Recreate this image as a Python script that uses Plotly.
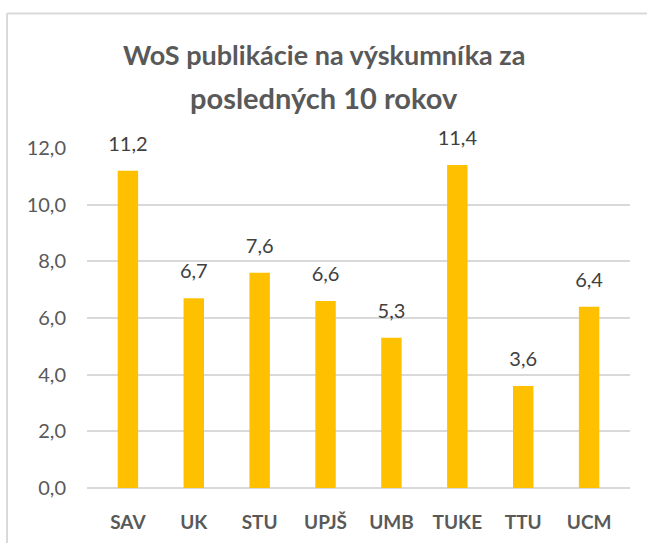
import plotly.graph_objects as go

categories = ["SAV", "UK", "STU", "UPJŠ", "UMB", "TUKE", "TTU", "UCM"]
values = [11.2, 6.7, 7.6, 6.6, 5.3, 11.4, 3.6, 6.4]
y_ticks = [0, 2, 4, 6, 8, 10, 12]
y_tick_labels = ["0,0", "2,0", "4,0", "6,0", "8,0", "10,0", "12,0"]
value_labels = [f"{v:.1f}".replace(".", ",") for v in values]
title_lines = ["WoS publikácie na výskumníka za", "posledných 10 rokov"]

FONT = "Lato, Liberation Sans, sans-serif"
W, H = 647, 545
L, R, T, B = 87, 17, 148, 51
pw, ph = W - L - R, H - T - B

fig = go.Figure()
fig.add_trace(go.Bar(
    x=categories, y=values,
    marker=dict(color="#FFC000", line=dict(width=0)),
    width=0.31, hoverinfo="x+y",
))
fig.add_trace(go.Scatter(
    x=categories, y=values, mode="markers+text",
    marker=dict(size=22, opacity=0),
    text=value_labels, textposition="top center", cliponaxis=False,
    textfont=dict(family=FONT, size=20, color="#404040"),
    hoverinfo="skip",
))

def py(pix):
    return (H - B - pix) / ph

def px(pix):
    return (pix - L) / pw

annotations = []
for line, ypix, fs in zip(title_lines, [53, 97], [27, 29]):
    annotations.append(dict(
        text=f"<b>{line}</b>", xref="paper", yref="paper",
        x=px(324), y=py(ypix), xanchor="center", yanchor="middle",
        showarrow=False, font=dict(family=FONT, size=fs, color="#595959"),
    ))

fig.update_layout(
    width=W, height=H,
    margin=dict(l=L, r=R, t=T, b=B),
    paper_bgcolor="white", plot_bgcolor="white",
    showlegend=False,
    annotations=annotations,
)
fig.update_yaxes(
    range=[0, 12], tickvals=y_ticks, ticktext=y_tick_labels,
    showgrid=True, gridcolor="#D9D9D9", gridwidth=1.5,
    zeroline=True, zerolinecolor="#D9D9D9", zerolinewidth=1.5,
    showline=False, ticks="", ticklabelstandoff=20,
    tickfont=dict(family=FONT, size=20, color="#595959"),
)
fig.update_xaxes(
    showgrid=False, showline=False, ticks="",
    ticklabelstandoff=21,
    tickfont=dict(family=FONT, size=19, color="#595959", weight="bold"),
)

# chart border (top and left edges visible)
fig.add_shape(type="line", xref="paper", yref="paper", x0=px(7), x1=px(W + 5), y0=py(11), y1=py(11),
              line=dict(color="#D9D9D9", width=2), layer="above")
fig.add_shape(type="line", xref="paper", yref="paper", x0=px(7), x1=px(7), y0=py(11), y1=py(H + 5),
              line=dict(color="#D9D9D9", width=2), layer="above")

fig.write_html("out.html", config={"displayModeBar": False},
               post_script="document.body.style.margin='0';document.body.style.overflow='hidden';")
